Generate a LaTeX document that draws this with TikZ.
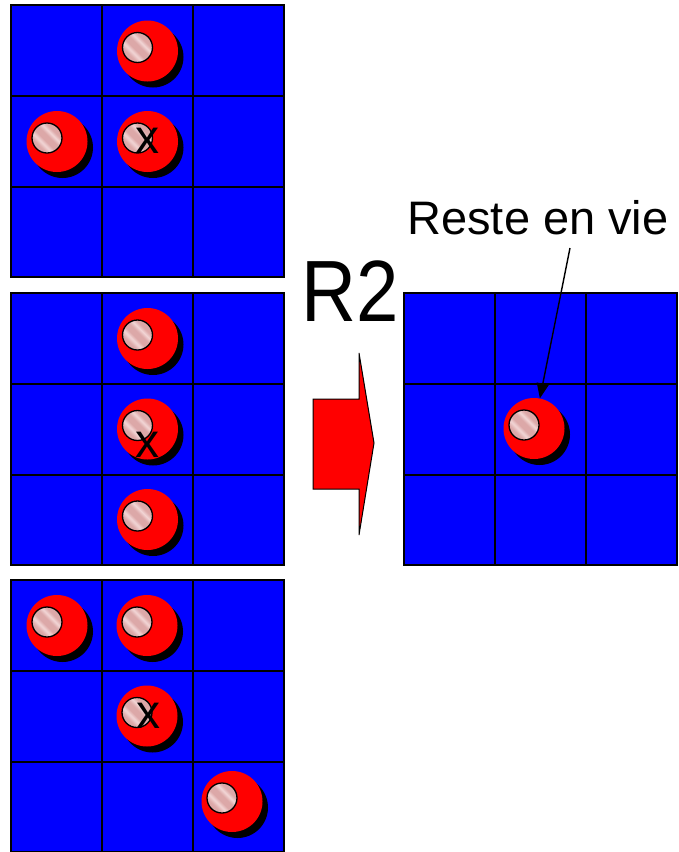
\documentclass[tikz,border=0pt]{standalone}
\usepackage{fontspec}
\setmainfont{Liberation Sans}
\usetikzlibrary{arrows.meta}
\definecolor{gblue}{RGB}{0,0,255}
\definecolor{bred}{RGB}{255,0,0}
\definecolor{pk}{RGB}{220,168,168}
\definecolor{pkl}{RGB}{242,214,214}
\pgfdeclarehorizontalshading{hlstripes}{100bp}{color(0bp)=(pk); color(32bp)=(pk); color(39bp)=(pkl); color(45bp)=(pk); color(54bp)=(pk); color(60bp)=(pkl); color(66bp)=(pk); color(100bp)=(pk)}
\tikzset{
  gridbox/.style={fill=gblue, draw=black, line width=1.6pt},
  gridline/.style={draw=black, line width=1.6pt},
  redball/.style={circle, fill=bred, minimum size=61pt, inner sep=0pt},
  shadowball/.style={fill=black},
  highlight/.style={shading=hlstripes, shading angle=45, draw=black, line width=1.3pt},
  deadmark/.style={font=\fontsize{48}{48}\selectfont, inner sep=0pt, anchor=base},
  bigtext/.style={inner sep=0pt, anchor=base},
  blockarrow/.style={fill=bred, draw=black, line width=1pt, line join=miter},
  pointer/.style={draw=black, line width=1.4pt, -{Triangle[length=15pt,width=12pt]}}
}
\newcommand{\DrawGrid}[2]{%
  \draw[gridbox] (#1,#2) rectangle (#1+273,#2+272);
  \draw[gridline] (#1+91,#2) -- (#1+91,#2+272);
  \draw[gridline] (#1+182,#2) -- (#1+182,#2+272);
  \draw[gridline] (#1,#2+91) -- (#1+273,#2+91);
  \draw[gridline] (#1,#2+182) -- (#1+273,#2+182);
}
\newcommand{\DrawBall}[3]{%
  \fill[shadowball] (#2+5.5,#3+6) circle (30.5pt);
  \node[redball] (#1) at (#2,#3) {};
  \draw[highlight] (#2-10,#3-3.5) circle (15pt);
}
\begin{document}
\begin{tikzpicture}[x=1pt,y=-1pt]
\useasboundingbox (0,0) rectangle (679,852);
\fill[white] (0,0) rectangle (679,852);
% grids
\DrawGrid{11}{5}
\DrawGrid{11}{293}
\DrawGrid{11}{580}
\DrawGrid{404}{293}
% grid 1
\DrawBall{ga}{147.5}{51}
\DrawBall{gb}{57}{141.5}
\DrawBall{gc}{147.5}{141.5}
\node[deadmark] (xa) at (147.5,153) {x};
% grid 2
\DrawBall{ha}{147.5}{338.5}
\DrawBall{hb}{147.5}{429}
\DrawBall{hc}{147.5}{519.5}
\node[deadmark] (xb) at (147.5,457) {x};
% grid 3
\DrawBall{ka}{57}{625.5}
\DrawBall{kb}{147}{625.5}
\DrawBall{kc}{147}{716}
\DrawBall{kd}{232}{801.5}
\node[deadmark] (xc) at (148,728) {x};
% result grid
\DrawBall{rb}{534}{428.5}
% block arrow
\draw[blockarrow] (313,399) -- (359,399) -- (359,353) -- (374,443) -- (359,535) -- (359,489) -- (313,489) -- cycle;
% labels
\node[bigtext, font=\fontsize{87}{87}\selectfont] (rtwo) at (350.5,321.5) {\scalebox{0.875}[1]{R2}};
\node[bigtext, font=\fontsize{47}{47}\selectfont] (lbl) at (538,234) {Reste en vie};
\coordinate (arrstart) at (570,248);
\draw[pointer] (arrstart) -- (rb.79);
\end{tikzpicture}
\end{document}
